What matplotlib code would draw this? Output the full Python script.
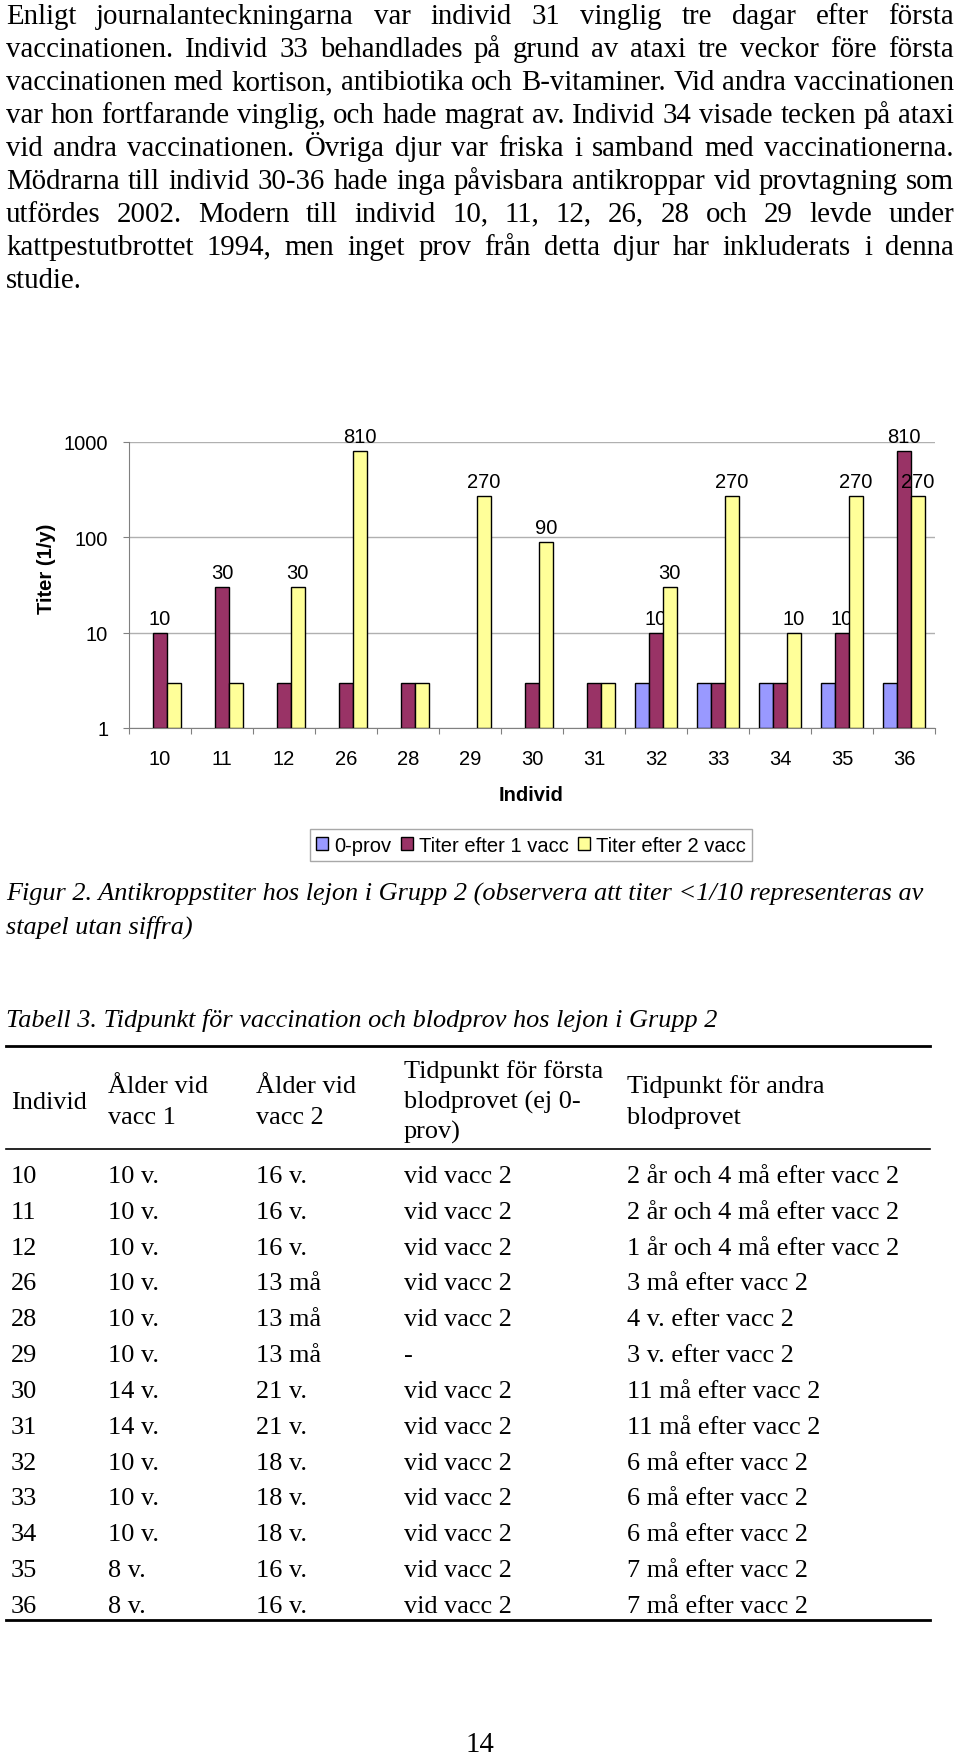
import numpy as np
import matplotlib.pyplot as plt
from matplotlib.patches import Patch

# page size in pixels
W, H = 960, 1758
DPI = 100

# chart data (values < 1/10 are drawn as a bar of height 3 without a label)
individ = ['10', '11', '12', '26', '28', '29', '30', '31', '32', '33', '34', '35', '36']
prov0 = [np.nan, np.nan, np.nan, np.nan, np.nan, np.nan, np.nan, np.nan, 3, 3, 3, 3, 3]
titer1 = [10, 30, 3, 3, 3, np.nan, 3, 3, 10, 3, 3, 10, 810]
titer2 = [3, 3, 30, 810, 3, 270, 90, 3, 30, 270, 10, 270, 270]
series_names = ['0-prov', 'Titer efter 1 vacc', 'Titer efter 2 vacc']
series_colors = ['#9999FF', '#993366', '#FFFF99']
ytick_vals = [1, 10, 100, 1000]

paragraph = [
    'Enligt journalanteckningarna var individ 31 vinglig tre dagar efter första',
    'vaccinationen. Individ 33 behandlades på grund av ataxi tre veckor före första',
    'vaccinationen med kortison, antibiotika och B-vitaminer. Vid andra vaccinationen',
    'var hon fortfarande vinglig, och hade magrat av. Individ 34 visade tecken på ataxi',
    'vid andra vaccinationen. Övriga djur var friska i samband med vaccinationerna.',
    'Mödrarna till individ 30-36 hade inga påvisbara antikroppar vid provtagning som',
    'utfördes 2002. Modern till individ 10, 11, 12, 26, 28 och 29 levde under',
    'kattpestutbrottet 1994, men inget prov från detta djur har inkluderats i denna',
    'studie.',
]
caption = [
    'Figur 2. Antikroppstiter hos lejon i Grupp 2 (observera att titer <1/10 representeras av',
    'stapel utan siffra)',
]
table_title = 'Tabell 3. Tidpunkt för vaccination och blodprov hos lejon i Grupp 2'
table_header = [
    ['Individ'],
    ['Ålder vid', 'vacc 1'],
    ['Ålder vid', 'vacc 2'],
    ['Tidpunkt för första', 'blodprovet (ej 0-', 'prov)'],
    ['Tidpunkt för andra', 'blodprovet'],
]
table_rows = [
    ['10', '10 v.', '16 v.', 'vid vacc 2', '2 år och 4 må efter vacc 2'],
    ['11', '10 v.', '16 v.', 'vid vacc 2', '2 år och 4 må efter vacc 2'],
    ['12', '10 v.', '16 v.', 'vid vacc 2', '1 år och 4 må efter vacc 2'],
    ['26', '10 v.', '13 må', 'vid vacc 2', '3 må efter vacc 2'],
    ['28', '10 v.', '13 må', 'vid vacc 2', '4 v. efter vacc 2'],
    ['29', '10 v.', '13 må', '-', '3 v. efter vacc 2'],
    ['30', '14 v.', '21 v.', 'vid vacc 2', '11 må efter vacc 2'],
    ['31', '14 v.', '21 v.', 'vid vacc 2', '11 må efter vacc 2'],
    ['32', '10 v.', '18 v.', 'vid vacc 2', '6 må efter vacc 2'],
    ['33', '10 v.', '18 v.', 'vid vacc 2', '6 må efter vacc 2'],
    ['34', '10 v.', '18 v.', 'vid vacc 2', '6 må efter vacc 2'],
    ['35', '8 v.', '16 v.', 'vid vacc 2', '7 må efter vacc 2'],
    ['36', '8 v.', '16 v.', 'vid vacc 2', '7 må efter vacc 2'],
]

SERIF = 'Liberation Serif'
SANS = 'Liberation Sans'
CHART_FS = 14.5

fig = plt.figure(figsize=(W / DPI, H / DPI), dpi=DPI)
page = fig.add_axes([0, 0, 1, 1])
page.set_xlim(0, W)
page.set_ylim(H, 0)
page.axis('off')
renderer = fig.canvas.get_renderer()


def text_width(s, **kw):
    t = page.text(0, 0, s, **kw)
    w = t.get_window_extent(renderer).width
    t.remove()
    return w


def fit_size(s, target, **kw):
    return 20 * target / text_width(s, fontsize=20, **kw)


def justified(line, y, x0, x1, **kw):
    words = line.split()
    widths = [text_width(w, **kw) for w in words]
    gap = (x1 - x0 - sum(widths)) / (len(words) - 1)
    x = x0
    for word, wd in zip(words, widths):
        page.text(x, y, word, ha='left', va='baseline', **kw)
        x += wd + gap


# body text size fitted to the tightest line
X0, X1 = 6, 954
body = dict(family=SERIF, fontsize=fit_size(paragraph[2], X1 - X0, family=SERIF), color='black')

for i, line in enumerate(paragraph):
    y = 24 + 32.95 * i
    if i < len(paragraph) - 1:
        justified(line, y, X0, X1, **body)
    else:
        page.text(X0, y, line, ha='left', va='baseline', **body)

# chart
left, right, top, bottom = 129, 935, 443, 729
ax = fig.add_axes([left / W, 1 - bottom / H, (right - left) / W, (bottom - top) / H])
x = np.arange(len(individ))
bw = 1 / 4.5
for k, (vals, name, col) in enumerate(zip([prov0, titer1, titer2], series_names, series_colors)):
    vals = np.array(vals, dtype=float)
    ax.bar(x + (k - 1) * bw, vals - 1, bottom=1, width=bw, color=col,
           edgecolor='black', linewidth=1, zorder=3, label=name)
    for xi, v in zip(x, vals):
        if v >= 10:
            ax.annotate(f'{v:.0f}', (xi + (k - 1) * bw, v), xytext=(0, 3.5),
                        textcoords='offset points', ha='center', va='bottom',
                        family=SANS, fontsize=CHART_FS, annotation_clip=False)

ax.set_yscale('log')
ax.set_ylim(1, 1000)
ax.set_xlim(-0.5, len(individ) - 0.5)
ax.yaxis.set_minor_locator(plt.NullLocator())
ax.set_yticks(ytick_vals)
ax.set_yticklabels([str(v) for v in ytick_vals], family=SANS, fontsize=CHART_FS)
ax.set_xticks(np.arange(len(individ) + 1) - 0.5)
ax.set_xticklabels([])
ax.set_xticks(x, minor=True)
ax.set_xticklabels(individ, minor=True, family=SANS, fontsize=CHART_FS)
ax.tick_params(axis='x', which='major', length=4, color='#808080', direction='out')
ax.tick_params(axis='x', which='minor', length=0, pad=15)
ax.tick_params(axis='y', length=4, color='#808080', pad=11)
ax.grid(axis='y', color='#B0B0B0', linewidth=1, zorder=0)
for s in ['top', 'right']:
    ax.spines[s].set_visible(False)
for s in ['left', 'bottom']:
    ax.spines[s].set_color('#808080')

page.text(531, 796, 'Individ', ha='center', va='center', family=SANS, fontsize=CHART_FS, fontweight='bold')
page.text(47, 569, 'Titer (1/y)', ha='center', va='center', rotation=90,
          family=SANS, fontsize=CHART_FS, fontweight='bold')

handles = [Patch(facecolor=c, edgecolor='black', linewidth=1) for c in series_colors]
leg = fig.legend(handles, series_names, loc='center', bbox_to_anchor=(531 / W, 1 - 846 / H),
                 ncol=3, frameon=True, fancybox=False, framealpha=1, borderpad=0.3,
                 borderaxespad=0, handlelength=0.6, handleheight=0.6, handletextpad=0.3,
                 columnspacing=0.45, prop={'family': SANS, 'size': CHART_FS})
leg.get_frame().set_edgecolor('#A8A8A8')
leg.get_frame().set_linewidth(1)

# caption and table title (condensed in the source, so fitted to its widths)
cap = dict(family=SERIF, style='italic')
cap_fs = fit_size(caption[0], 920, **cap)
page.text(X0, 901, caption[0], ha='left', va='baseline', fontsize=cap_fs, **cap)
page.text(X0, 934, caption[1], ha='left', va='baseline', fontsize=cap_fs, **cap)
page.text(X0, 1027, table_title, ha='left', va='baseline', fontsize=cap_fs, **cap)

# table
tab = dict(family=SERIF, color='black')
tab['fontsize'] = fit_size(table_rows[0][4], 272, **tab)
col_x = [11, 108, 256, 404, 627]
page.plot([6, 930], [1047, 1047], color='black', linewidth=2)
page.plot([6, 930], [1150, 1150], color='black', linewidth=1.2)
page.plot([6, 930], [1621, 1621], color='black', linewidth=2)
header_y = {1: [1109], 2: [1093, 1124], 3: [1078, 1109, 1139]}
for cx, lines in zip(col_x, table_header):
    for ly, txt in zip(header_y[len(lines)], lines):
        page.text(cx, ly, txt, ha='left', va='baseline', **tab)
for r, row in enumerate(table_rows):
    y = 1183 + 35.83 * r
    for cx, txt in zip(col_x, row):
        page.text(cx, y, txt, ha='left', va='baseline', **tab)

page.text(480, 1752, '14', ha='center', va='baseline', **body)

fig.savefig('out.png', dpi=DPI)
